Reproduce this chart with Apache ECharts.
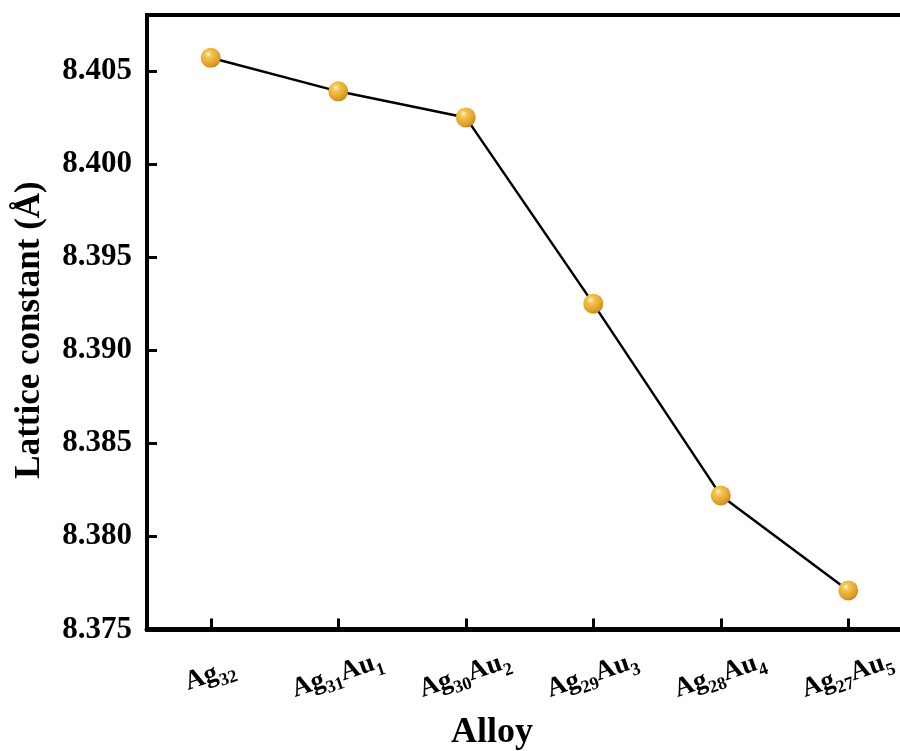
<!DOCTYPE html>
<html>
<head>
<meta charset="utf-8">
<script src="https://cdn.jsdelivr.net/npm/echarts@6/dist/echarts.min.js"></script>
<style>
html,body{margin:0;padding:0;background:#fff;}
#chart{width:900px;height:751px;}
</style>
</head>
<body>
<div id="chart"></div>
<script>
var categories = ["Ag32", "Ag31Au1", "Ag30Au2", "Ag29Au3", "Ag28Au4", "Ag27Au5"];
var latticeValues = [8.4057, 8.4039, 8.4025, 8.3925, 8.3822, 8.3771];
var yTicks = [8.375, 8.380, 8.385, 8.390, 8.395, 8.400, 8.405];

var FONT = "'Liberation Serif', 'Times New Roman', serif";

function toRich(name) {
  return name.replace(/([A-Za-z]+)|(\d+)/g, function (m, letters, digits) {
    return letters ? '{m|' + letters + '}' : '{s|' + digits + '}';
  });
}

var chart = echarts.init(document.getElementById('chart'), null, {renderer: 'canvas'});
chart.setOption({
  animation: false,
  backgroundColor: '#fff',
  grid: {
    left: 147, top: 15, width: 765, bottom: 121.5,
    outerBoundsMode: 'none',
    containLabel: false,
    show: true, borderColor: '#000', borderWidth: 4, backgroundColor: 'transparent'
  },
  xAxis: {
    type: 'category',
    data: categories,
    boundaryGap: true,
    axisLine: {show: true, lineStyle: {color: '#000', width: 5}},
    axisTick: {show: true, inside: true, alignWithLabel: true, length: 11, lineStyle: {color: '#000', width: 3}},
    splitLine: {show: false},
    axisLabel: {
      interval: 0,
      rotate: 19,
      align: 'center',
      verticalAlign: 'middle',
      margin: 48,
      formatter: function (v) { return toRich(v); },
      rich: {
        m: {fontFamily: FONT, fontWeight: 'bold', fontSize: 27, color: '#000', verticalAlign: 'top', lineHeight: 32},
        s: {fontFamily: FONT, fontWeight: 'bold', fontSize: 18, color: '#000', verticalAlign: 'bottom', lineHeight: 16}
      }
    }
  },
  yAxis: {
    type: 'value',
    min: 8.375,
    max: 8.408,
    interval: 0.005,
    axisLine: {show: true, lineStyle: {color: '#000', width: 4}},
    axisTick: {show: true, inside: true, length: 10, lineStyle: {color: '#000', width: 3}},
    splitLine: {show: false},
    axisLabel: {
      margin: 15,
      fontFamily: FONT, fontWeight: 'bold', fontSize: 31, color: '#000',
      showMaxLabel: false,
      formatter: function (v) {
        for (var i = 0; i < yTicks.length; i++) {
          if (Math.abs(v - yTicks[i]) < 1e-7) return yTicks[i].toFixed(3);
        }
        return '';
      }
    }
  },
  graphic: [
    {
      type: 'text',
      x: 492, y: 733,
      style: {text: 'Alloy', font: 'bold 36px ' + FONT, fill: '#000', textAlign: 'center', textVerticalAlign: 'middle'}
    },
    {
      type: 'text',
      x: 30, y: 330, rotation: Math.PI / 2,
      style: {text: 'Lattice constant (Å)', font: 'bold 35px ' + FONT, fill: '#000', textAlign: 'center', textVerticalAlign: 'middle'}
    }
  ],
  series: [{
    type: 'line',
    data: latticeValues,
    symbol: 'circle',
    symbolSize: 20,
    showSymbol: true,
    lineStyle: {color: '#000', width: 2.5},
    itemStyle: {
      color: {
        type: 'radial', x: 0.38, y: 0.32, r: 0.72,
        colorStops: [
          {offset: 0, color: '#fff8e0'},
          {offset: 0.22, color: '#f5c650'},
          {offset: 0.75, color: '#dfa02a'},
          {offset: 1, color: '#c08420'}
        ]
      },
      borderWidth: 0
    },
    z: 3
  }]
});
</script>
</body>
</html>
